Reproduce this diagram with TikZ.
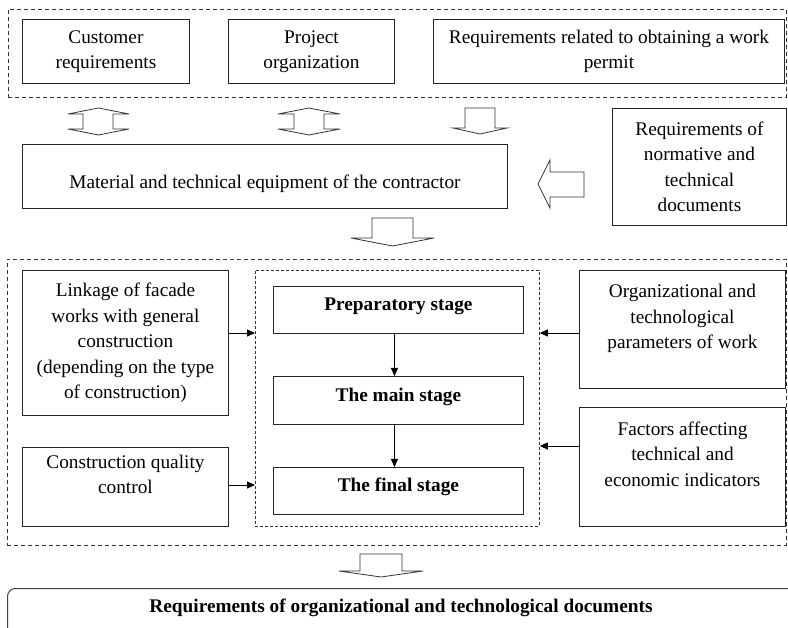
\documentclass[tikz,border=0pt]{standalone}
\usepackage{fontspec}
\setmainfont{Liberation Serif}
\usetikzlibrary{arrows.meta}
\begin{document}
\begin{tikzpicture}[x=1pt,y=-1pt,
  txtfont/.style={font=\fontsize{19.3}{25.5}\selectfont},
  box/.style={draw=black!85, line width=0.9pt, align=center, inner sep=0pt,
    anchor=north west, txtfont},
  stagebox/.style={box, font=\fontsize{19.3}{25.5}\selectfont\bfseries, text height=6pt, text depth=4pt},
  grp/.style={draw=black!80, line width=0.9pt, dash pattern=on 4pt off 3pt,
    anchor=north west, inner sep=0pt},
  innergrp/.style={draw=black!80, line width=0.8pt, dash pattern=on 3pt off 2pt,
    anchor=north west, inner sep=0pt},
  hollow/.style={draw=black!80, fill=white, line width=0.8pt, line join=miter},
  conn/.style={draw=black, line width=0.8pt, -{Triangle[length=8pt,width=7pt]}},
]
\useasboundingbox (0,0) rectangle (788,628);
\clip (0,0) rectangle (788,628);

% top group
\node[grp, minimum width=778pt, minimum height=88pt] (topgrp) at (8,9) {};
\node[box, minimum width=167pt, minimum height=64pt] (cust) at (22,19) {Customer\\requirements};
\node[box, minimum width=166pt, minimum height=64pt] (proj) at (228,19) {Project\\organization};
\node[box, minimum width=351pt, minimum height=64pt] (permit) at (433,19) {Requirements related to obtaining a work\\permit};

% hollow arrows between top group and material box
\path[hollow] (98.5,108) -- (129,114) -- (113,114) -- (113,129) -- (129,129) -- (98.5,135)
  -- (68,129) -- (83,129) -- (83,114) -- (68,114) -- cycle;
\path[hollow] (309,108) -- (340,114) -- (324,114) -- (324,129) -- (340,129) -- (309,135)
  -- (278,129) -- (294,129) -- (294,114) -- (278,114) -- cycle;
\path[hollow] (465,108) -- (495,108) -- (495,128) -- (507,128) -- (480,134) -- (453,128)
  -- (465,128) -- cycle;

% material box
\node[box, minimum width=485pt, minimum height=64pt, text height=29pt, text depth=4pt] (mat) at (22,144) {Material and technical equipment of the contractor};

% normative box and left arrow
\node[box, minimum width=174pt, minimum height=117pt] (norm) at (612,108) {Requirements of\\normative and\\technical\\documents};
\path[hollow] (538,184) -- (550,160) -- (550,172) -- (584,172) -- (584,197) -- (550,197)
  -- (550,208) -- cycle;

% down arrow to middle group
\path[hollow] (372,218) -- (413,218) -- (413,238) -- (434,238) -- (392.5,246) -- (351,238)
  -- (372,238) -- cycle;

% middle group
\node[grp, minimum width=779pt, minimum height=286pt] (midgrp) at (7,259) {};
\node[innergrp, minimum width=284pt, minimum height=256pt] (inner) at (255,270) {};
\node[stagebox, minimum width=250pt, minimum height=47pt] (prep) at (273,286) {Preparatory stage};
\node[stagebox, minimum width=250pt, minimum height=48pt] (mainst) at (273,376) {The main stage};
\node[stagebox, minimum width=250pt, minimum height=47pt] (final) at (273,467) {The final stage};

\node[box, minimum width=206pt, minimum height=145pt] (link) at (22,270) {Linkage of facade\\works with general\\construction\\(depending on the type\\of construction)};
\node[box, minimum width=206pt, minimum height=79pt] (qual) at (22,447) {Construction quality\\control\\~};
\node[box, minimum width=206pt, minimum height=118pt] (org) at (579,270) {Organizational and\\technological\\parameters of work\\~};
\node[box, minimum width=206pt, minimum height=119pt] (fact) at (579,407) {Factors affecting\\technical and\\economic indicators\\~};

% connectors
\draw[conn] ([xshift=-4pt]prep.south) -- ([xshift=-4pt]mainst.north);
\draw[conn] ([xshift=-4pt]mainst.south) -- ([xshift=-4pt]final.north);
\draw[conn] (link.east |- 0,333) -- (inner.west |- 0,333);
\draw[conn] (qual.east |- 0,485) -- (inner.west |- 0,485);
\draw[conn] (org.west |- 0,333) -- (inner.east |- 0,333);
\draw[conn] (fact.west |- 0,446) -- (inner.east |- 0,446);

% down arrow to bottom box
\path[hollow] (360,554) -- (402,554) -- (402,571) -- (423,571) -- (381,577) -- (339,571)
  -- (360,571) -- cycle;

% bottom box
\node[draw=black!75, line width=1pt, rounded corners=8pt, minimum width=800pt, minimum height=80pt,
  anchor=north west, inner sep=0pt] (req) at (7,588) {};
\node[font=\fontsize{19.3}{25.5}\selectfont\bfseries, inner sep=0pt] (reqtext) at (401,608)
  {Requirements of organizational and technological documents};
\end{tikzpicture}
\end{document}
